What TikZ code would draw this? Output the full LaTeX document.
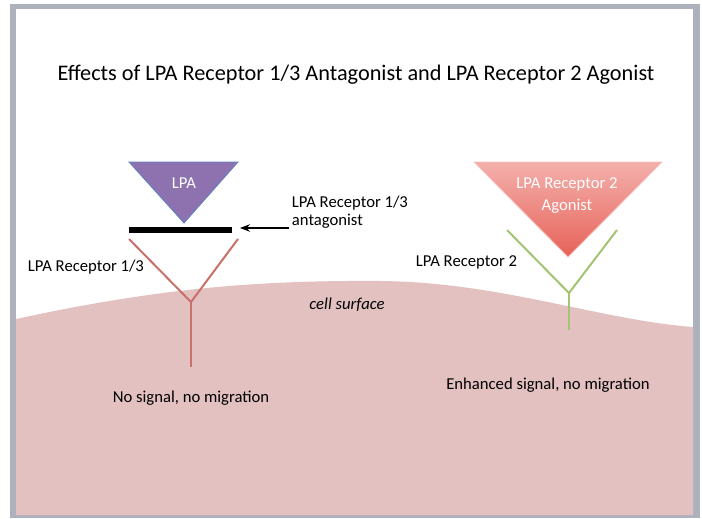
\documentclass[tikz,border=0pt]{standalone}
\usepackage{fontspec}
\setmainfont{Carlito}
\usetikzlibrary{
    positioning,
    arrows.meta
}
\definecolor{grisMarco}{RGB}{172,177,187}
\definecolor{rosaCelula}{RGB}{228,193,193}
\definecolor{rojoRec}{RGB}{200,112,106}
\definecolor{verdeRec}{RGB}{163,196,115}
\definecolor{moradoLPA}{RGB}{142,114,176}
\definecolor{azulBorde}{RGB}{92,130,190}
\definecolor{rosaClaro}{RGB}{244,176,172}
\definecolor{rojoOscuro}{RGB}{230,98,88}
\tikzset{
    >=Stealth,
    texto/.style={
        font=\fontsize{12.5}{14}\selectfont,
        inner sep=2pt
    },
    textoBlanco/.style={
        texto,
        text=white
    },
    receptorRojo/.style={draw=rojoRec, line width=1.5pt},
    receptorVerde/.style={draw=verdeRec, line width=1.5pt}
}

\begin{document}
\begin{tikzpicture}[
    x=0.75pt,
    y=-0.75pt,
    >=Stealth
]

    \useasboundingbox (0,0) rectangle (702,518);

    % Marco
    \fill[grisMarco] (10,4) rectangle (700,518);
    \fill[white]     (16,9) rectangle (693,515);

    % Superficie celular
    \fill[rosaCelula] (16,319)
        .. controls (150,290) and (250,280) .. (380,281)
        .. controls (500,282) and (600,320) .. (693,327)
        -- (693,515) -- (16,515) -- cycle;

    % Titulo
    \node[font=\fontsize{16.7}{19}\selectfont] (titulo) at (356,75)
        {Effects of LPA Receptor 1/3 Antagonist and LPA Receptor 2 Agonist};

    % LPA
    \coordinate (lpaI) at (129,162);
    \coordinate (lpaD) at (238,162);
    \coordinate (lpaV) at (184,223);
    \filldraw[fill=moradoLPA, draw=azulBorde, line width=0.6pt]
        (lpaI) -- (lpaD) -- (lpaV) -- cycle;
    \node[textoBlanco] (lpa) at (184,183) {LPA};

    % Antagonista
    \coordinate (barraI) at (129,230);
    \coordinate (barraD) at (232,230);
    \draw[line width=3.8pt] (barraI) -- (barraD);

    \node[texto, anchor=west, align=left] (antag) at (289,212)
        {LPA Receptor 1/3\\antagonist};
    \coordinate (flechaFin) at (240,228);
    \draw[->, line width=1pt] (antag.west |- flechaFin) -- (flechaFin);

    % Receptor 1/3
    \coordinate (r1I) at (129,239);
    \coordinate (r1D) at (238,239);
    \coordinate (r1U) at (191,302);
    \coordinate (r1B) at (191,367);
    \draw[receptorRojo] (r1I) -- (r1U) -- (r1D);
    \draw[receptorRojo] (r1U) -- (r1B);

    \node[texto, anchor=west] (rec1) at (25,267) {LPA Receptor 1/3};
    \node[texto] (res1) at (191,398) {No signal, no migration};

    % Agonista
    \coordinate (agI) at (474,162);
    \coordinate (agD) at (662,162);
    \coordinate (agV) at (568,257);
    \shade[top color=rosaClaro, bottom color=rojoOscuro]
        (agI) -- (agD) -- (agV) -- cycle;
    \draw[draw=rosaClaro!80!white, line width=0.6pt]
        (agI) -- (agD) -- (agV) -- cycle;
    \node[textoBlanco, align=center, font=\fontsize{12.5}{16.5}\selectfont]
        (ag) at (567,196) {LPA Receptor 2\\Agonist};

    % Receptor 2
    \coordinate (r2I) at (507,230);
    \coordinate (r2D) at (617,230);
    \coordinate (r2U) at (569,293);
    \coordinate (r2B) at (569,330);
    \draw[receptorVerde] (r2I) -- (r2U) -- (r2D);
    \draw[receptorVerde] (r2U) -- (r2B);

    \node[texto, anchor=west] (rec2) at (413,262) {LPA Receptor 2};
    \node[texto] (res2) at (548,385) {Enhanced signal, no migration};

    \node[texto, font=\fontsize{12.5}{14}\selectfont\itshape]
        (superficie) at (347,305) {cell surface};

\end{tikzpicture}
\end{document}
